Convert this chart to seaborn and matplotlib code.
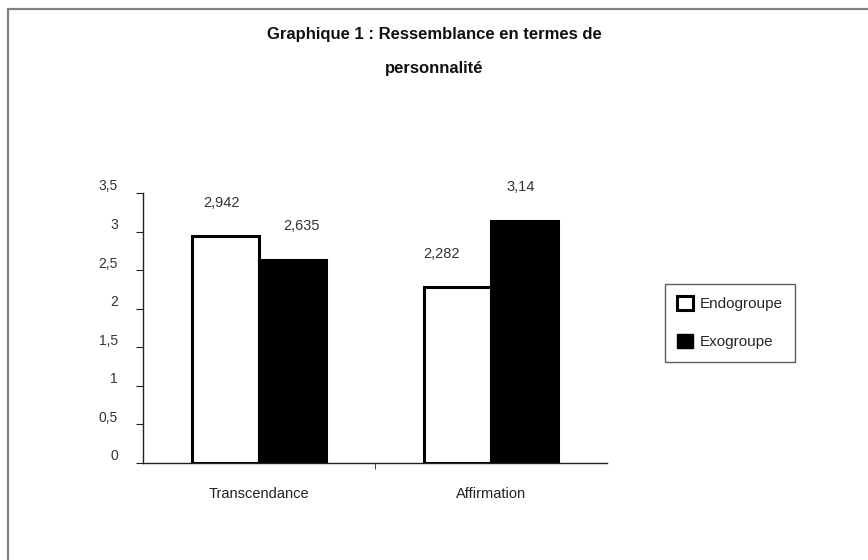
import matplotlib
matplotlib.use("Agg")
import matplotlib.pyplot as plt
import matplotlib.transforms as mtransforms
from matplotlib.patches import Rectangle
import seaborn as sns
import pandas as pd

categories = ["Transcendance", "Affirmation"]
groups = ["Endogroupe", "Exogroupe"]
endogroupe = [2.942, 2.282]
exogroupe = [2.635, 3.14]
value_labels_endo = ["2,942", "2,282"]
value_labels_exo = ["2,635", "3,14"]
yticks = [0, 0.5, 1, 1.5, 2, 2.5, 3, 3.5]
ytick_labels = ["0", "0,5", "1", "1,5", "2", "2,5", "3", "3,5"]
title_line1 = "Graphique 1 : Ressemblance en termes de"
title_line2 = "personnalité"

df = pd.DataFrame({
    "Catégorie": categories * 2,
    "Groupe": [groups[0]] * 2 + [groups[1]] * 2,
    "Valeur": endogroupe + exogroupe,
})

sns.set_style("white")
plt.rcParams["font.family"] = ["Liberation Sans", "DejaVu Sans"]

fig = plt.figure(figsize=(8.68, 5.6), dpi=100)
ax = fig.add_axes([143 / 868, 1 - 463 / 560, (607 - 143) / 868, (463 - 193) / 560])

sns.barplot(data=df, x="Catégorie", y="Valeur", hue="Groupe", order=categories,
            hue_order=groups, palette=["white", "black"], edgecolor="black",
            linewidth=2.2, width=0.58, gap=0, ax=ax, legend=False, saturation=1)

ax.set_xlim(-0.5, 1.5)
ax.set_ylim(0, 3.5)
ax.set_yticks(yticks)
ax.set_yticklabels(ytick_labels)
ax.set_xlabel("")
ax.set_ylabel("")
for side in ["top", "right"]:
    ax.spines[side].set_visible(False)
for side in ["left", "bottom"]:
    ax.spines[side].set_color("#222222")
    ax.spines[side].set_linewidth(1.0)
ax.set_xticks([0.5], minor=True)
ax.tick_params(axis="x", which="major", length=0, pad=17, labelsize=10.5, labelcolor="#222222")
ax.tick_params(axis="x", which="minor", length=4, direction="out", color="#222222", bottom=True)
ax.tick_params(axis="y", length=5, direction="out", left=True, pad=13, labelsize=10,
               labelcolor="#333333", color="#222222")
offset = mtransforms.ScaledTranslation(0, 8 / 100, fig.dpi_scale_trans)
for lab in ax.get_yticklabels():
    lab.set_transform(lab.get_transform() + offset)

# value labels
label_sets = [value_labels_endo, value_labels_exo]
dxs = [[-4, 9], [-16, -4]]
for gi, (cont, labs) in enumerate(zip(ax.containers, label_sets)):
    for ci, (bar, lab) in enumerate(zip(cont, labs)):
        dx = dxs[ci][gi]
        ax.annotate(lab, (bar.get_x() + bar.get_width() / 2, bar.get_height()),
                    xytext=(dx * 0.72, 24), textcoords="offset points",
                    ha="center", va="center", fontsize=10.5, color="#333333")

fig.text(0.5, 1 - 35 / 560, title_line1, ha="center", va="center",
         fontsize=12, fontweight="bold", color="#111111")
fig.text(0.5, 1 - 68 / 560, title_line2, ha="center", va="center",
         fontsize=12, fontweight="bold", color="#111111")

handles = [Rectangle((0, 0), 1, 1, facecolor="white", edgecolor="black", linewidth=2.2),
           Rectangle((0, 0), 1, 1, facecolor="black", edgecolor="black", linewidth=1)]
leg = fig.legend(handles, groups, loc="upper left",
                 bbox_to_anchor=(665 / 868, 1 - 284 / 560), frameon=True,
                 fontsize=11, handlelength=1.0, handleheight=1.0, handletextpad=0.5,
                 labelspacing=1.5, borderpad=0.8, fancybox=False, borderaxespad=0)
leg.get_frame().set_edgecolor("#333333")
leg.get_frame().set_linewidth(1.0)

# figure border (top and left visible)
fig.add_artist(plt.Line2D([7.5 / 868, 1], [1 - 8.5 / 560, 1 - 8.5 / 560], color="#808080",
                          linewidth=1.6, transform=fig.transFigure))
fig.add_artist(plt.Line2D([7.5 / 868, 7.5 / 868], [0, 1 - 8.5 / 560], color="#808080",
                          linewidth=1.6, transform=fig.transFigure))

fig.savefig("out.png", dpi=100, facecolor="white")
